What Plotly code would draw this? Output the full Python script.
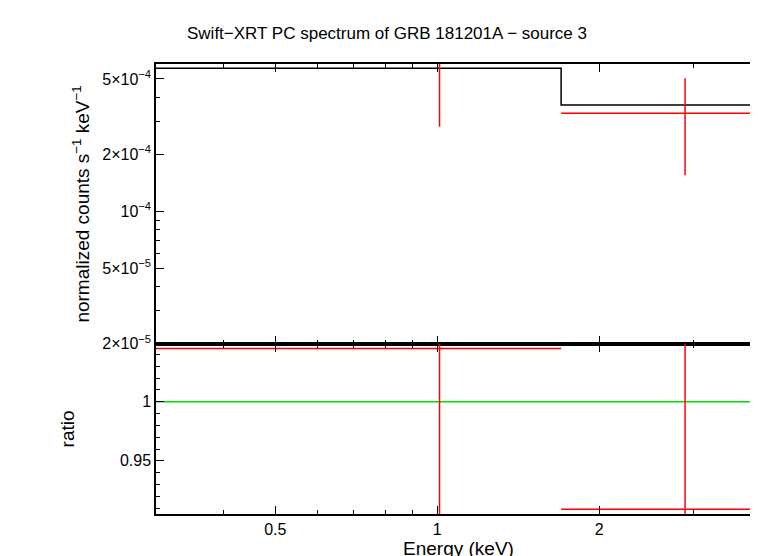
import plotly.graph_objects as go
from plotly.subplots import make_subplots

# data bins (keV)
energy = [1.01, 2.89]
e_lo = [0.30, 1.70]
e_hi = [1.70, 4.00]
counts = [6.1e-4, 3.3e-4]
counts_err = [3.3e-4, 1.75e-4]
model_x = [0.30, 1.70, 4.00]
model_y = [5.7e-4, 3.65e-4, 3.65e-4]
ratio = [1.045, 0.909]
ratio_err = [0.2, 0.2]

fig = make_subplots(rows=2, cols=1, shared_xaxes=True, vertical_spacing=0,
                    row_heights=[0.622, 0.378])

ex_minus = [e - l for e, l in zip(energy, e_lo)]
ex_plus = [h - e for e, h in zip(energy, e_hi)]

fig.add_trace(go.Scatter(x=model_x, y=model_y, mode="lines", line_shape="hv",
                         line=dict(color="black", width=1.5)), row=1, col=1)
fig.add_trace(go.Scatter(x=energy, y=counts, mode="markers", marker=dict(size=0.1, color="red"),
                         error_x=dict(type="data", symmetric=False, array=ex_plus, arrayminus=ex_minus,
                                      color="red", thickness=1.5, width=0),
                         error_y=dict(type="data", array=counts_err, color="red", thickness=1.5, width=0)),
              row=1, col=1)
fig.add_trace(go.Scatter(x=[0.3, 4.0], y=[1, 1], mode="lines",
                         line=dict(color="#00e000", width=1.5)), row=2, col=1)
fig.add_trace(go.Scatter(x=energy, y=ratio, mode="markers", marker=dict(size=0.1, color="red"),
                         error_x=dict(type="data", symmetric=False, array=ex_plus, arrayminus=ex_minus,
                                      color="red", thickness=1.5, width=0),
                         error_y=dict(type="data", array=ratio_err, color="red", thickness=1.5, width=0)),
              row=2, col=1)

axis_style = dict(showline=True, linecolor="black", linewidth=1.5, mirror="ticks", ticks="inside",
                  ticklen=8, tickwidth=1, tickcolor="black", showgrid=False, zeroline=False,
                  automargin=False)
xticks = dict(type="log", range=[0.4771 - 1, 0.6021], tickvals=[0.5, 1, 2], ticktext=["0.5", "1", "2"],
              minor=dict(ticks="inside", ticklen=4, tickcolor="black",
                         tickvals=[0.3, 0.4, 0.6, 0.7, 0.8, 0.9, 3, 4]))
fig.update_xaxes(**axis_style, **xticks)
fig.update_xaxes(showticklabels=False, row=1, col=1)
fig.update_xaxes(title_text="Energy (keV)", title_standoff=2, row=2, col=1)
fig.update_yaxes(**axis_style)
fig.update_yaxes(type="log", range=[-4.699, -3.222],
                 tickvals=[2e-5, 5e-5, 1e-4, 2e-4, 5e-4],
                 ticktext=["2×10<sup>−5</sup>", "5×10<sup>−5</sup>", "10<sup>−4</sup>",
                           "2×10<sup>−4</sup>", "5×10<sup>−4</sup>"],
                 minor=dict(ticks="inside", ticklen=4, tickcolor="black",
                            tickvals=[3e-5, 4e-5, 6e-5, 7e-5, 8e-5, 9e-5, 3e-4, 4e-4, 6e-4]),
                 title_text="normalized counts s<sup>−1</sup> keV<sup>−1</sup>", title_standoff=8,
                 row=1, col=1)
fig.update_yaxes(range=[0.905, 1.049], tickvals=[0.95, 1], ticktext=["0.95", "1"],
                 minor=dict(ticks="inside", ticklen=4, tickcolor="black", dtick=0.01),
                 title_text="ratio", title_standoff=40, row=2, col=1)

fig.update_layout(width=758, height=556, showlegend=False, plot_bgcolor="white", paper_bgcolor="white",
                  margin=dict(l=148, r=5, t=56, b=50),
                  font=dict(family="Liberation Sans, Arial", size=16, color="black"),
                  title=dict(text="Swift−XRT PC spectrum of GRB 181201A − source 3",
                             x=0.5, xanchor="center", y=0.965, font=dict(size=17)))
fig.write_html("out.html")
